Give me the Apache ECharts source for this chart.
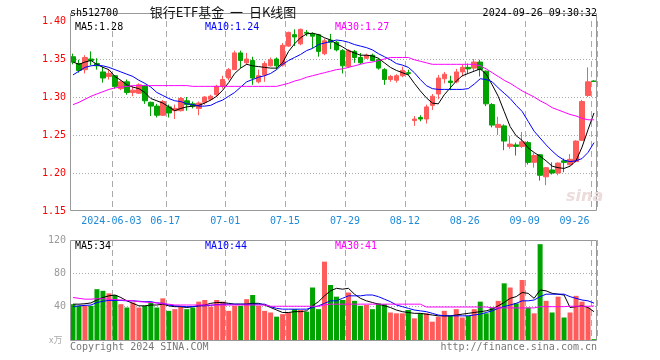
<!DOCTYPE html>
<html><head><meta charset="utf-8">
<script src="https://cdn.jsdelivr.net/npm/echarts@6/dist/echarts.min.js"></script>
<style>html,body{margin:0;padding:0;background:#fff}#c{width:660px;height:360px}</style>
</head><body><div id="c"></div>
<script>
const dates = ['2024-05-23','2024-05-24','2024-05-27','2024-05-28','2024-05-29','2024-05-30','2024-05-31','2024-06-03','2024-06-04','2024-06-05',
'2024-06-06','2024-06-07','2024-06-11','2024-06-12','2024-06-13','2024-06-14','2024-06-17','2024-06-18','2024-06-19','2024-06-20',
'2024-06-21','2024-06-24','2024-06-25','2024-06-26','2024-06-27','2024-06-28','2024-07-01','2024-07-02','2024-07-03','2024-07-04',
'2024-07-05','2024-07-08','2024-07-09','2024-07-10','2024-07-11','2024-07-12','2024-07-15','2024-07-16','2024-07-17','2024-07-18',
'2024-07-19','2024-07-22','2024-07-23','2024-07-24','2024-07-25','2024-07-26','2024-07-29','2024-07-30','2024-07-31','2024-08-01',
'2024-08-02','2024-08-05','2024-08-06','2024-08-07','2024-08-08','2024-08-09','2024-08-12','2024-08-13','2024-08-14','2024-08-15',
'2024-08-16','2024-08-19','2024-08-20','2024-08-21','2024-08-22','2024-08-23','2024-08-26','2024-08-27','2024-08-28','2024-08-29',
'2024-08-30','2024-09-02','2024-09-03','2024-09-04','2024-09-05','2024-09-06','2024-09-09','2024-09-10','2024-09-11','2024-09-12',
'2024-09-13','2024-09-18','2024-09-19','2024-09-20','2024-09-23','2024-09-24','2024-09-25','2024-09-26'];

const opens = [1.353,1.344,1.336,1.350,1.344,1.333,1.327,1.328,1.311,1.320,
1.306,1.305,1.315,1.293,1.288,1.276,1.287,1.282,1.282,1.295,
1.291,1.285,1.293,1.297,1.303,1.314,1.325,1.336,1.358,1.345,
1.348,1.320,1.329,1.341,1.350,1.342,1.367,1.382,1.370,1.385,
1.383,1.382,1.357,1.375,1.372,1.361,1.340,1.360,1.352,1.351,
1.355,1.349,1.336,1.323,1.322,1.328,1.332,1.269,1.273,1.271,
1.289,1.304,1.324,1.321,1.320,1.333,1.339,1.338,1.346,1.334,
1.290,1.260,1.262,1.235,1.237,1.235,1.240,1.214,1.224,1.195,
1.204,1.200,1.216,1.211,1.215,1.243,1.302,1.321];
const closes = [1.346,1.335,1.352,1.348,1.341,1.325,1.331,1.314,1.320,1.306,
1.309,1.316,1.295,1.288,1.276,1.294,1.279,1.285,1.298,1.290,
1.288,1.292,1.300,1.301,1.314,1.323,1.336,1.358,1.348,1.350,
1.325,1.328,1.344,1.349,1.341,1.368,1.385,1.379,1.389,1.384,
1.380,1.360,1.374,1.372,1.362,1.341,1.361,1.352,1.345,1.355,
1.348,1.338,1.323,1.327,1.328,1.335,1.331,1.271,1.271,1.287,
1.301,1.325,1.330,1.319,1.333,1.339,1.337,1.346,1.336,1.291,
1.263,1.264,1.242,1.238,1.235,1.241,1.214,1.223,1.197,1.207,
1.200,1.213,1.214,1.218,1.242,1.294,1.320,1.3205];
const lows = [1.343,1.332,1.331,1.342,1.336,1.319,1.323,1.311,1.309,1.303,
1.301,1.304,1.291,1.275,1.273,1.275,1.273,1.271,1.281,1.282,
1.285,1.276,1.290,1.295,1.300,1.311,1.322,1.336,1.338,1.342,
1.316,1.318,1.320,1.340,1.336,1.340,1.366,1.367,1.368,1.380,
1.364,1.353,1.355,1.363,1.360,1.331,1.338,1.345,1.343,1.350,
1.347,1.336,1.316,1.320,1.319,1.326,1.329,1.262,1.268,1.265,
1.283,1.297,1.318,1.309,1.318,1.327,1.331,1.334,1.327,1.288,
1.260,1.250,1.230,1.232,1.223,1.233,1.211,1.207,1.190,1.184,
1.198,1.197,1.201,1.210,1.214,1.242,1.300,1.320];
const highs = [1.357,1.349,1.355,1.360,1.351,1.340,1.336,1.329,1.322,1.323,
1.314,1.318,1.316,1.294,1.291,1.296,1.290,1.290,1.300,1.300,
1.294,1.294,1.301,1.303,1.316,1.328,1.338,1.361,1.361,1.358,
1.353,1.336,1.347,1.352,1.352,1.371,1.386,1.389,1.390,1.388,
1.385,1.383,1.377,1.383,1.374,1.363,1.363,1.362,1.358,1.357,
1.357,1.351,1.338,1.329,1.330,1.340,1.336,1.275,1.276,1.290,
1.304,1.329,1.333,1.328,1.337,1.343,1.344,1.350,1.349,1.335,
1.292,1.274,1.264,1.249,1.240,1.254,1.242,1.226,1.225,1.208,
1.214,1.214,1.219,1.225,1.243,1.296,1.339,1.322];

const ma5 = [1.346,1.343,1.346,1.348,1.343,1.339,1.336,1.327,1.322,1.316,
1.313,1.311,1.306,1.298,1.295,1.292,1.287,1.282,1.285,1.287,
1.288,1.289,1.292,1.296,1.301,1.309,1.319,1.331,1.338,1.343,
1.341,1.340,1.339,1.338,1.338,1.345,1.360,1.370,1.378,1.383,
1.384,1.382,1.378,1.375,1.370,1.366,1.361,1.358,1.355,1.355,
1.354,1.351,1.345,1.339,1.335,1.332,1.329,1.318,1.308,1.299,
1.292,1.291,1.303,1.312,1.321,1.328,1.331,1.334,1.337,1.330,
1.316,1.301,1.281,1.261,1.249,1.243,1.233,1.227,1.222,1.216,
1.209,1.207,1.206,1.209,1.216,1.234,1.257,1.279];
const ma10 = [1.329,1.334,1.339,1.341,1.342,1.341,1.339,1.336,1.333,1.330,
1.327,1.322,1.318,1.313,1.306,1.302,1.298,1.295,1.294,1.291,
1.290,1.288,1.288,1.289,1.293,1.296,1.301,1.306,1.313,1.320,
1.323,1.326,1.328,1.331,1.336,1.343,1.348,1.352,1.356,1.361,
1.364,1.369,1.371,1.373,1.375,1.374,1.372,1.369,1.367,1.365,
1.362,1.357,1.353,1.349,1.344,1.342,1.339,1.332,1.323,1.315,
1.311,1.310,1.310,1.310,1.310,1.310,1.311,1.317,1.324,1.323,
1.320,1.312,1.305,1.298,1.289,1.281,1.268,1.255,1.246,1.237,
1.229,1.222,1.217,1.215,1.216,1.219,1.227,1.240];
const ma30 = [1.290,1.293,1.297,1.301,1.304,1.307,1.310,1.312,1.313,1.314,
1.315,1.315,1.315,1.315,1.315,1.315,1.315,1.315,1.315,1.315,
1.314,1.314,1.314,1.314,1.314,1.314,1.314,1.314,1.314,1.314,
1.314,1.314,1.314,1.314,1.314,1.316,1.318,1.321,1.323,1.326,
1.328,1.330,1.332,1.334,1.336,1.337,1.339,1.341,1.343,1.345,
1.346,1.348,1.350,1.352,1.352,1.352,1.352,1.349,1.347,1.345,
1.343,1.343,1.343,1.343,1.343,1.343,1.343,1.343,1.341,1.337,
1.332,1.327,1.322,1.318,1.313,1.308,1.304,1.300,1.295,1.291,
1.286,1.283,1.280,1.277,1.275,1.272,1.270,1.270];

const volumes = [43,41,41,41,61,59,56,54,43,39,
45,39,41,45,39,50,35,37,40,37,
39,46,48,40,48,46,35,41,41,49,
54,41,35,33,28,31,33,37,36,34,
63,37,94,66,52,48,57,47,41,42,
37,44,43,33,32,32,36,26,32,32,
22,28,35,29,37,27,29,37,46,32,
39,47,68,63,44,72,39,32,115,47,
33,52,27,33,53,46,39,1];
const volMa5 = [43,43,43.5,44.5,48,51,53,54,51,47,
44,41,41,42,42,43,41,40,40,39,
40,41,42,44,45,45,44,43,43,43,
44,44,42,39,36,33,33,34,34,35,
41,46,53,59,62,61,62,55,50,47,
45,43,41,39,36,34,33,32,32,31,
30,29,29,29,30,31,32,33,34,35,
37,41,45,50,52,57,56,50,60,59,
56,55,54,39,40,41,39,34];
const volMa10 = [40,41,41.5,42,45,46.5,47.5,47.5,47.5,47,
47,46.5,46,46,44.5,44,42,41,40.5,40,
40,41,41,41.5,42.5,43,43,43,43,43,
43,43,43,40,38,37,37,37,37,37,
39,41,44,47,47,50,53,53,53,54,
54,52,49,46,42,40,38,36,35,34,
32,30,29,29,29,29,29,30,31,33,
35,38,40,42,44,47,47,48,52,55,
55,55,55,52,50,48,47,44.2];
const volMa30 = [51,50,49,49,49.5,49.5,49,48.5,48,47.5,
47,46,45.5,45,44.5,43.5,43,42,42,42,
42,42,42,42,42,42,42,42,42,42,
42,42,42,40.5,40.5,40.5,40.5,40.5,40.5,40.5,
40.5,40.5,42,43,43,43,43,43,43,43,
43,43,43,43,43,43,43,43,43,39.6,
39.6,39.6,39.6,39.6,39.6,39.6,39.6,39.6,39.6,39.6,
38.5,38.5,38.5,38.5,38.5,38.5,38.5,38.5,40,40,
40,40,40,40.5,40.5,40.5,40.5,40.8];

const gridDates = ['2024-06-03','2024-06-17','2024-07-01','2024-07-15','2024-07-29','2024-08-12','2024-08-26','2024-09-09','2024-09-26'];
const gridLabels = ['2024-06-03','06-17','07-01','07-15','07-29','08-12','08-26','09-09','09-26'];

const UP = '#ff5b5b', DOWN = '#00a400';
const MONO = 'DejaVu Sans Mono';
const isGrid = (i) => gridDates.indexOf(dates[i]) >= 0;

const chart = echarts.init(document.getElementById('c'), null, {renderer: 'canvas'});
const candleData = dates.map((d, i) => [opens[i], closes[i], lows[i], highs[i]]);
const volData = volumes.map((v, i) => ({value: v, itemStyle: {color: closes[i] >= opens[i] ? UP : DOWN}}));
const last = (a) => a[a.length - 1];

const splitV = {show: true, interval: (i) => isGrid(i), lineStyle: {color: '#aaa', width: 1, type: [6, 4]}};
const splitH = {show: true, showMinLine: false, showMaxLine: false, lineStyle: {color: '#aaa', width: 1, type: [1, 2]}};

const txt = (x, y, text, color, opt) => Object.assign({
  type: 'text', x: x, y: y, silent: true, z: 50,
  style: Object.assign({text: text, fill: color, font: '10px "' + MONO + '"', textVerticalAlign: 'middle'}, (opt && opt.style) || {})
}, opt && opt.extra || {});

chart.setOption({
  animation: false,
  backgroundColor: '#fff',
  grid: [
    {left: 70, top: 21, width: 527, height: 190},
    {left: 70, top: 240, width: 527, height: 100}
  ],
  xAxis: [
    {type: 'category', gridIndex: 0, data: dates, boundaryGap: true,
     axisLine: {show: false}, axisTick: {show: false},
     axisLabel: {show: true, interval: (i) => isGrid(i), margin: 5,
       formatter: (v) => { const k = gridDates.indexOf(v); if (k < 0) return ''; return (k === gridDates.length - 1 ? '{e|' : '{n|') + gridLabels[k] + '}'; },
       rich: {
         n: {color: '#1e8ad8', fontFamily: MONO, fontSize: 10, padding: [0, 7, 0, 0]},
         e: {color: '#1e8ad8', fontFamily: MONO, fontSize: 10, padding: [0, 39, 0, 0]}
       }},
     splitLine: splitV},
    {type: 'category', gridIndex: 1, data: dates, boundaryGap: true,
     axisLine: {show: false}, axisTick: {show: false}, axisLabel: {show: false},
     splitLine: splitV}
  ],
  yAxis: [
    {type: 'value', gridIndex: 0, min: 1.15, max: 1.40, interval: 0.05,
     axisLine: {show: false}, axisTick: {show: false},
     axisLabel: {color: '#ff0000', fontFamily: MONO, fontSize: 10, margin: 4, formatter: (v) => v.toFixed(2)},
     splitLine: splitH},
    {type: 'value', gridIndex: 1, min: 0, max: 120, interval: 40,
     axisLine: {show: false}, axisTick: {show: false},
     axisLabel: {color: '#999', fontFamily: MONO, fontSize: 10, margin: 4, formatter: (v) => v === 0 ? '' : String(v)},
     splitLine: splitH}
  ],
  series: [
    {type: 'candlestick', xAxisIndex: 0, yAxisIndex: 0, data: candleData, barWidth: 5,
     itemStyle: {color: UP, color0: DOWN, borderColor: UP, borderColor0: DOWN, borderWidth: 1}},
    {type: 'line', xAxisIndex: 0, yAxisIndex: 0, data: ma5, symbol: 'none', lineStyle: {color: '#000', width: 1}},
    {type: 'line', xAxisIndex: 0, yAxisIndex: 0, data: ma10, symbol: 'none', lineStyle: {color: '#0000ff', width: 1}},
    {type: 'line', xAxisIndex: 0, yAxisIndex: 0, data: ma30, symbol: 'none', lineStyle: {color: '#ff00ff', width: 1}},
    {type: 'bar', xAxisIndex: 1, yAxisIndex: 1, data: volData, barWidth: 5},
    {type: 'line', xAxisIndex: 1, yAxisIndex: 1, data: volMa5, symbol: 'none', lineStyle: {color: '#000', width: 1}},
    {type: 'line', xAxisIndex: 1, yAxisIndex: 1, data: volMa10, symbol: 'none', lineStyle: {color: '#0000ff', width: 1}},
    {type: 'line', xAxisIndex: 1, yAxisIndex: 1, data: volMa30, symbol: 'none', lineStyle: {color: '#ff00ff', width: 1}}
  ],
  graphic: [
    {type: 'rect', silent: true, z: 40, shape: {x: 70.5, y: 13.5, width: 526, height: 197}, style: {fill: 'none', stroke: '#999', lineWidth: 1}},
    {type: 'rect', silent: true, z: 40, shape: {x: 70.5, y: 240.5, width: 526, height: 100}, style: {fill: 'none', stroke: '#999', lineWidth: 1}},
    txt(70, 13, 'sh512700', '#000'),
    txt(223, 12, '银行ETF基金  一  日K线图', '#111', {style: {font: '13px "Noto Sans CJK SC"', textAlign: 'center'}}),
    txt(597, 13, '2024-09-26 09:30:32', '#000', {style: {textAlign: 'right'}}),
    txt(75, 27, 'MA5:' + last(ma5).toFixed(2), '#000'),
    txt(205, 27, 'MA10:' + last(ma10).toFixed(2), '#0000ff'),
    txt(335, 27, 'MA30:' + last(ma30).toFixed(2), '#ff00ff'),
    txt(75, 246, 'MA5:' + Math.round(last(volMa5)), '#000'),
    txt(205, 246, 'MA10:' + Math.round(last(volMa10)), '#0000ff'),
    txt(335, 246, 'MA30:' + Math.round(last(volMa30)), '#ff00ff'),
    txt(49, 340, 'x万', '#aaa', {style: {font: '9px "Noto Sans CJK SC"'}}),
    txt(70, 347, 'Copyright 2024 SINA.COM', '#777'),
    txt(597, 347, 'http://finance.sina.com.cn', '#777', {style: {textAlign: 'right'}}),
    txt(566, 197, 'sina', '#ecdcdc', {style: {font: 'italic bold 16px "DejaVu Sans"'}})
  ]
});
</script></body></html>
